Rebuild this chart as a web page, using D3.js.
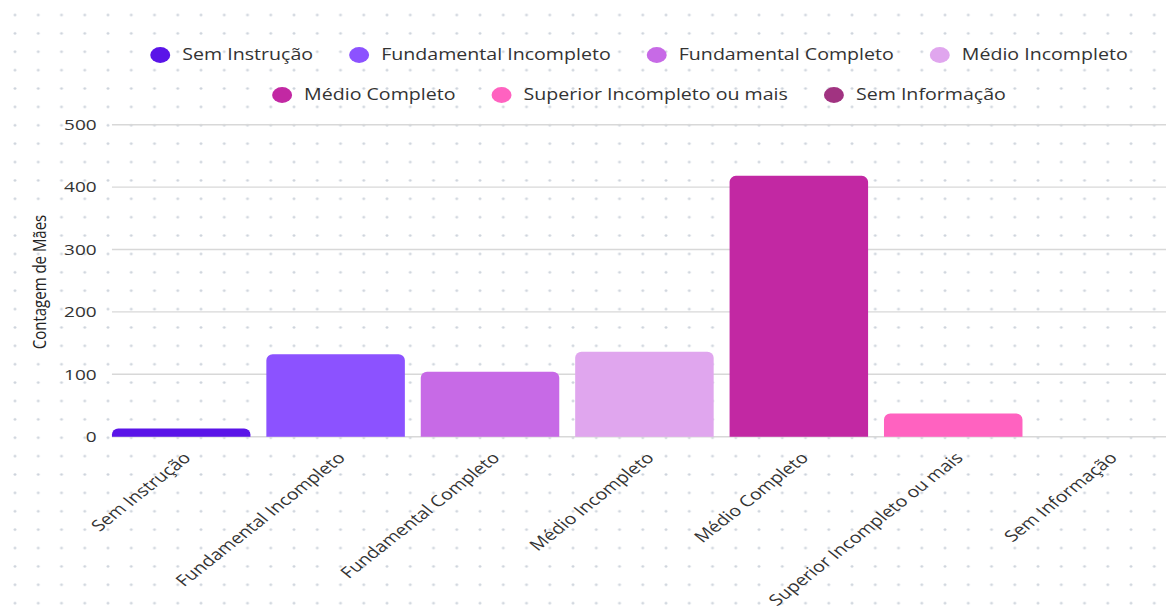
<!DOCTYPE html>
<html>
<head>
<meta charset="utf-8">
<script src="https://cdn.jsdelivr.net/npm/d3@7"></script>
<style>
  html, body { margin: 0; padding: 0; background: #fff; overflow: hidden; }
  svg { display: block; }
  text { font-family: "Open Sans", "Noto Sans", sans-serif; }
</style>
</head>
<body>
<svg id="chart"></svg>
<script>
// Escolaridade da mãe: contagem por categoria
const categories = [
  "Sem Instrução",
  "Fundamental Incompleto",
  "Fundamental Completo",
  "Médio Incompleto",
  "Médio Completo",
  "Superior Incompleto ou mais",
  "Sem Informação"
];
const counts = [13, 132, 104, 136, 418, 37, 0];
const colors = ["#5a14e8", "#8c52ff", "#c76ae6", "#e0a6ee", "#c228a3", "#ff62c0", "#a13381"];
const yTicks = [0, 100, 200, 300, 400, 500];
const yTitle = "Contagem de Mães";

// The drawing is laid out in a narrower user space and stretched to the page width.
const W = 1166, H = 610, SX = 1.265;
const VW = W / SX;

const svg = d3.select("#chart")
  .attr("width", W).attr("height", H)
  .attr("viewBox", `0 0 ${VW} ${H}`)
  .attr("preserveAspectRatio", "none");

// dotted background
const defs = svg.append("defs");
const gap = 18.38;
defs.append("pattern")
  .attr("id", "dotgrid")
  .attr("patternUnits", "userSpaceOnUse")
  .attr("width", gap).attr("height", gap)
  .attr("x", 11.86 - gap / 2).attr("y", 15 - gap / 2)
  .append("circle")
  .attr("cx", gap / 2).attr("cy", gap / 2).attr("r", 1.15)
  .attr("fill", "#cdd3dc");
svg.append("rect").attr("width", VW).attr("height", H).attr("fill", "url(#dotgrid)");

// scales
const plotLeft = 88.5;
const step = 122.06, padIn = 0.103;
const x = d3.scaleBand()
  .domain(categories)
  .range([plotLeft, plotLeft + step * (categories.length - padIn)])
  .paddingInner(padIn).paddingOuter(0);
const y = d3.scaleLinear().domain([0, 500]).range([436.7, 124.7]);

// horizontal grid lines
svg.append("g").selectAll("line")
  .data(yTicks).join("line")
  .attr("x1", plotLeft).attr("x2", VW + 20)
  .attr("y1", d => y(d)).attr("y2", d => y(d))
  .attr("stroke", "#d8d8d8").attr("stroke-width", 1.4);

// y tick labels
svg.append("g").selectAll("text")
  .data(yTicks).join("text")
  .attr("x", 76.4).attr("y", d => y(d))
  .attr("dy", "0.35em")
  .attr("text-anchor", "end")
  .attr("font-size", 15)
  .attr("fill", "#333")
  .text(d => d);

// y axis title
svg.append("text")
  .attr("transform", `translate(36.5, 282) rotate(-90)`)
  .attr("text-anchor", "middle")
  .attr("font-size", 15)
  .attr("fill", "#222")
  .text(yTitle);

// bars with rounded top corners
const data = categories.map((c, i) => ({ cat: c, value: counts[i], color: colors[i] }));
function barPath(d) {
  const x0 = x(d.cat), w = x.bandwidth();
  const yb = y(0), yt = y(d.value), h = yb - yt;
  if (h <= 0) return "";
  const rx = 5, ry = Math.min(6, h);
  return `M${x0},${yb}V${yt + ry}A${rx},${ry} 0 0 1 ${x0 + rx},${yt}` +
         `H${x0 + w - rx}A${rx},${ry} 0 0 1 ${x0 + w},${yt + ry}V${yb}Z`;
}
svg.append("g").selectAll("path")
  .data(data).join("path")
  .attr("d", barPath)
  .attr("fill", d => d.color);

// rotated category labels
svg.append("g").selectAll("text")
  .data(categories).join("text")
  .attr("transform", d => `translate(${x(d) + x.bandwidth() / 2 + 8.5}, 459) rotate(-45)`)
  .attr("text-anchor", "end")
  .attr("font-size", 15.5)
  .attr("fill", "#333")
  .text(d => d);

// legend, wrapped into centred rows above the plot
const legendFont = 15.5, r = 7.9, textOff = 17.4, itemGap = 28.5;
const plotCenter = (plotLeft + VW) / 2;
const maxRow = VW - plotLeft;
const measure = svg.append("text").attr("font-size", legendFont).attr("visibility", "hidden");
const items = data.map(d => {
  measure.text(d.cat);
  return { ...d, w: 2 * r + (textOff - r) + measure.node().getComputedTextLength() };
});
measure.remove();

const rows = [];
let cur = [], curW = 0;
items.forEach(it => {
  const add = (cur.length ? itemGap : 0) + it.w;
  if (cur.length && curW + add > maxRow) { rows.push({ items: cur, w: curW }); cur = []; curW = 0; }
  curW += (cur.length ? itemGap : 0) + it.w;
  cur.push(it);
});
if (cur.length) rows.push({ items: cur, w: curW });

const legend = svg.append("g");
const rowY = [55, 95];
rows.forEach((row, ri) => {
  let cx = plotCenter - row.w / 2;
  row.items.forEach(it => {
    const g = legend.append("g").attr("transform", `translate(${cx},${rowY[ri]})`);
    g.append("circle").attr("cx", r).attr("cy", 0).attr("r", r).attr("fill", it.color);
    g.append("text")
      .attr("x", r + textOff).attr("y", 0).attr("dy", "0.35em")
      .attr("font-size", legendFont).attr("fill", "#333")
      .text(it.cat);
    cx += it.w + itemGap;
  });
});
</script>
</body>
</html>
